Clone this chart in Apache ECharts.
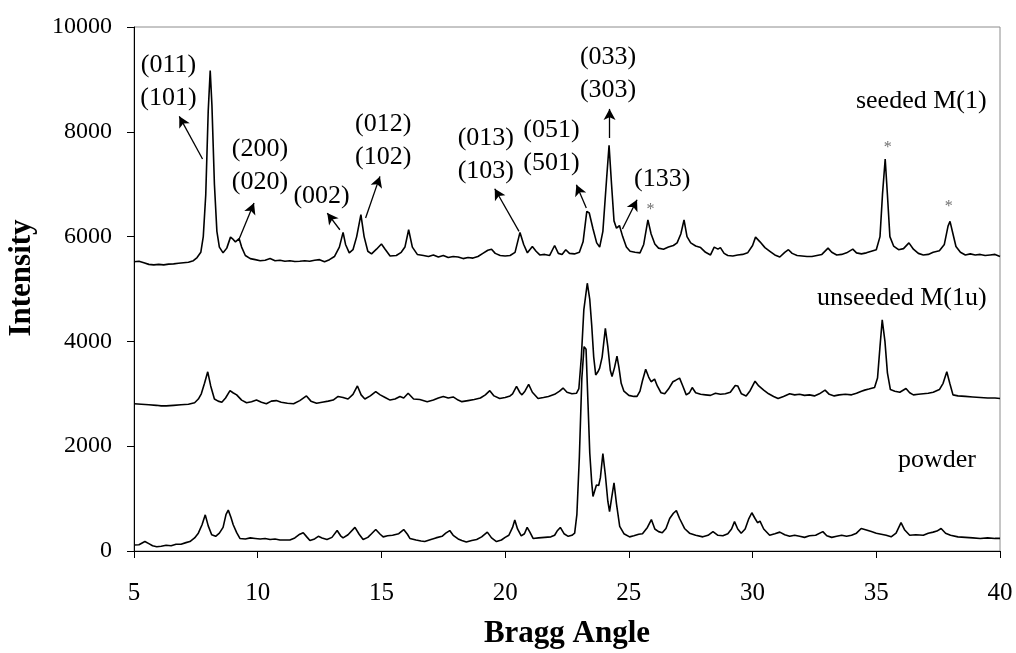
<!DOCTYPE html>
<html>
<head>
<meta charset="utf-8">
<script src="https://cdn.jsdelivr.net/npm/echarts@6/dist/echarts.min.js"></script>
<style>
html,body{margin:0;padding:0;background:#fff;}
#chart{width:1016px;height:653px;}
</style>
</head>
<body>
<div id="chart"></div>
<script>
// ---------- data ----------
const xTicks = [5, 10, 15, 20, 25, 30, 35, 40];
const yTicks = [0, 2000, 4000, 6000, 8000, 10000];
const seriesNames = ['seeded M(1)', 'unseeded M(1u)', 'powder'];

const seeded = [
[5.0,5520],[5.2,5530],[5.4,5500],[5.6,5470],[5.8,5460],[6.0,5470],[6.2,5460],[6.4,5475],[6.6,5480],[6.8,5490],
[7.0,5500],[7.2,5510],[7.4,5540],[7.55,5600],[7.7,5700],[7.8,6000],[7.9,6800],[8.0,8400],[8.08,9170],[8.15,8500],
[8.25,7000],[8.35,6100],[8.45,5800],[8.6,5690],[8.75,5780],[8.9,5990],[9.0,5950],[9.1,5900],[9.25,5960],[9.35,5800],
[9.5,5640],[9.7,5580],[9.9,5560],[10.1,5540],[10.3,5550],[10.5,5580],[10.7,5540],[10.9,5550],[11.1,5530],[11.3,5540],
[11.5,5525],[11.7,5530],[11.9,5540],[12.1,5530],[12.3,5550],[12.5,5560],[12.7,5520],[12.9,5560],[13.1,5620],[13.3,5800],
[13.45,6080],[13.55,5850],[13.7,5690],[13.85,5750],[14.0,6000],[14.17,6420],[14.3,6000],[14.45,5720],[14.6,5670],[14.8,5760],
[15.0,5860],[15.15,5760],[15.35,5630],[15.6,5640],[15.8,5700],[15.95,5800],[16.1,6130],[16.25,5800],[16.45,5660],[16.7,5640],
[16.9,5620],[17.1,5650],[17.3,5610],[17.5,5640],[17.7,5600],[17.9,5620],[18.1,5610],[18.3,5580],[18.5,5600],[18.7,5590],
[18.9,5620],[19.1,5680],[19.3,5740],[19.45,5760],[19.6,5680],[19.8,5640],[20.0,5630],[20.2,5640],[20.4,5700],[20.6,6080],
[20.75,5850],[20.9,5690],[21.1,5810],[21.25,5720],[21.4,5650],[21.6,5660],[21.8,5640],[22.0,5830],[22.15,5680],[22.3,5660],
[22.45,5750],[22.6,5680],[22.8,5670],[23.0,5700],[23.15,5900],[23.3,6480],[23.4,6450],[23.55,6150],[23.7,5880],[23.82,5800],
[23.95,6100],[24.1,7100],[24.2,7740],[24.3,7000],[24.4,6300],[24.5,6160],[24.62,6210],[24.75,6000],[24.9,5800],[25.05,5720],
[25.25,5700],[25.45,5690],[25.6,5850],[25.77,6320],[25.9,6050],[26.05,5860],[26.2,5780],[26.4,5760],[26.6,5800],[26.8,5830],
[26.95,5880],[27.1,6050],[27.23,6320],[27.35,6000],[27.5,5880],[27.7,5820],[27.9,5790],[28.1,5700],[28.3,5650],[28.45,5800],
[28.6,5760],[28.7,5790],[28.85,5680],[29.0,5640],[29.2,5630],[29.4,5650],[29.6,5660],[29.8,5690],[30.0,5830],[30.12,5990],
[30.3,5900],[30.5,5790],[30.7,5720],[30.9,5650],[31.1,5610],[31.3,5700],[31.45,5750],[31.6,5680],[31.8,5640],[32.0,5630],
[32.2,5620],[32.4,5620],[32.6,5640],[32.8,5660],[33.05,5780],[33.2,5700],[33.4,5650],[33.6,5660],[33.8,5690],[34.05,5760],
[34.2,5690],[34.4,5670],[34.6,5690],[34.8,5720],[35.0,5750],[35.15,6000],[35.25,6800],[35.36,7480],[35.45,6800],[35.55,6000],
[35.7,5820],[35.9,5750],[36.1,5770],[36.32,5880],[36.5,5760],[36.7,5680],[36.9,5650],[37.1,5660],[37.3,5700],[37.55,5730],
[37.75,5850],[37.9,6200],[37.98,6290],[38.1,6050],[38.22,5810],[38.4,5700],[38.6,5650],[38.8,5670],[39.0,5650],[39.2,5660],
[39.4,5640],[39.6,5650],[39.8,5660],[40.0,5620]
];

const unseeded = [
[5.0,2810],[5.3,2800],[5.6,2790],[5.9,2780],[6.1,2770],[6.3,2770],[6.6,2780],[6.9,2790],[7.2,2800],[7.45,2830],
[7.6,2900],[7.72,3000],[7.85,3200],[7.98,3420],[8.1,3150],[8.25,2900],[8.4,2860],[8.55,2840],[8.7,2920],[8.88,3060],
[9.0,3020],[9.15,2980],[9.35,2880],[9.55,2830],[9.75,2850],[9.95,2880],[10.15,2840],[10.35,2810],[10.55,2860],[10.75,2870],
[10.95,2840],[11.2,2820],[11.45,2810],[11.7,2870],[11.97,2960],[12.15,2860],[12.38,2820],[12.6,2840],[12.85,2860],[13.05,2880],
[13.25,2950],[13.45,2930],[13.65,2900],[13.85,2990],[14.03,3150],[14.18,2980],[14.33,2900],[14.55,2960],[14.77,3040],[14.95,2980],
[15.15,2930],[15.35,2880],[15.55,2900],[15.75,2950],[15.9,2920],[16.08,3010],[16.3,2900],[16.55,2890],[16.85,2850],[17.1,2880],
[17.3,2920],[17.5,2950],[17.7,2920],[17.9,2940],[18.1,2880],[18.25,2850],[18.5,2870],[18.75,2890],[19.0,2920],[19.2,2980],
[19.38,3060],[19.55,2960],[19.78,2910],[20.0,2930],[20.2,2960],[20.3,3000],[20.46,3140],[20.6,3020],[20.68,2980],[20.8,3050],
[20.95,3180],[21.1,3030],[21.33,2910],[21.55,2930],[21.75,2950],[22.0,2990],[22.2,3050],[22.34,3110],[22.5,3030],[22.7,3000],
[22.88,3010],[22.98,3100],[23.08,3700],[23.18,4600],[23.32,5110],[23.42,4800],[23.5,4300],[23.58,3700],[23.66,3360],[23.75,3420],
[23.82,3490],[23.92,3700],[24.05,4250],[24.15,3900],[24.25,3450],[24.32,3330],[24.42,3500],[24.52,3720],[24.6,3500],[24.69,3200],
[24.8,3050],[25.0,2970],[25.2,2950],[25.33,2950],[25.45,3050],[25.55,3250],[25.68,3470],[25.8,3320],[25.9,3230],[26.04,3280],
[26.15,3150],[26.3,3020],[26.45,3000],[26.6,3090],[26.78,3230],[26.9,3260],[27.05,3300],[27.18,3150],[27.32,2980],[27.45,3020],
[27.56,3120],[27.7,3020],[27.9,2990],[28.1,2980],[28.3,2970],[28.5,3010],[28.7,2990],[28.9,3000],[29.1,3030],[29.3,3160],
[29.4,3150],[29.55,3000],[29.74,2960],[29.9,3060],[30.1,3240],[30.25,3150],[30.45,3070],[30.65,3000],[30.85,2950],[31.03,2910],
[31.25,2950],[31.5,3000],[31.7,2980],[31.9,2990],[32.1,2970],[32.3,2980],[32.5,2960],[32.7,3000],[32.93,3070],[33.1,2990],
[33.3,2960],[33.5,2980],[33.75,2990],[34.0,2980],[34.2,3010],[34.4,3050],[34.53,3070],[34.7,3090],[34.93,3120],[35.05,3300],
[35.15,3900],[35.24,4410],[35.35,4000],[35.45,3400],[35.57,3080],[35.75,3050],[35.95,3030],[36.2,3100],[36.35,3020],[36.5,2980],
[36.7,2990],[36.9,3000],[37.1,3010],[37.3,3030],[37.55,3080],[37.7,3200],[37.85,3420],[37.97,3200],[38.1,2980],[38.3,2960],
[38.6,2950],[38.9,2940],[39.2,2930],[39.5,2920],[39.8,2920],[40.0,2910]
];

const powder = [
[5.0,115],[5.2,120],[5.44,180],[5.6,140],[5.75,100],[5.92,80],[6.1,90],[6.3,110],[6.5,100],[6.7,130],
[6.9,130],[7.1,160],[7.26,180],[7.45,250],[7.6,340],[7.75,500],[7.88,690],[8.0,480],[8.14,310],[8.3,280],
[8.45,340],[8.6,450],[8.72,700],[8.81,780],[8.92,640],[9.01,500],[9.15,350],[9.28,240],[9.5,230],[9.7,250],
[9.9,240],[10.1,230],[10.3,240],[10.5,220],[10.7,230],[10.9,210],[11.1,210],[11.3,210],[11.5,250],[11.7,320],
[11.84,350],[12.0,260],[12.11,200],[12.3,230],[12.45,280],[12.6,250],[12.8,220],[13.0,260],[13.21,390],[13.35,290],
[13.45,250],[13.65,310],[13.93,450],[14.1,320],[14.26,220],[14.45,260],[14.6,330],[14.77,410],[14.95,320],[15.07,270],
[15.25,290],[15.45,300],[15.7,330],[15.9,410],[16.05,320],[16.15,240],[16.4,210],[16.6,190],[16.75,180],[17.0,220],
[17.2,250],[17.45,280],[17.6,340],[17.76,390],[17.9,300],[18.1,230],[18.25,200],[18.43,170],[18.65,200],[18.85,220],
[19.05,270],[19.28,360],[19.45,250],[19.65,180],[19.85,210],[20.0,260],[20.15,300],[20.3,450],[20.39,590],[20.5,420],
[20.65,290],[20.78,330],[20.89,450],[21.0,360],[21.13,240],[21.35,250],[21.6,260],[21.85,270],[22.0,300],[22.1,380],
[22.23,450],[22.38,330],[22.55,280],[22.7,300],[22.81,340],[22.9,700],[23.0,1800],[23.1,3300],[23.19,3900],[23.27,3850],
[23.35,2800],[23.42,1870],[23.5,1300],[23.55,1040],[23.62,1150],[23.69,1260],[23.78,1250],[23.85,1400],[23.95,1860],[24.05,1450],
[24.15,950],[24.22,750],[24.3,1000],[24.4,1300],[24.5,900],[24.63,470],[24.8,330],[25.03,270],[25.2,290],[25.4,320],
[25.55,330],[25.75,450],[25.91,600],[26.05,420],[26.2,370],[26.35,350],[26.5,430],[26.65,620],[26.8,720],[26.92,770],
[27.05,620],[27.25,430],[27.45,340],[27.7,300],[27.99,270],[28.2,300],[28.4,370],[28.6,300],[28.8,290],[29.0,330],
[29.15,420],[29.27,560],[29.4,420],[29.54,340],[29.7,420],[29.85,620],[29.97,730],[30.1,620],[30.2,540],[30.3,570],
[30.45,420],[30.69,300],[30.9,330],[31.1,360],[31.3,310],[31.5,280],[31.7,300],[31.9,280],[32.1,260],[32.3,290],
[32.55,300],[32.84,370],[33.0,290],[33.2,260],[33.4,280],[33.6,300],[33.8,280],[34.0,300],[34.2,340],[34.39,430],
[34.6,400],[34.8,370],[35.0,340],[35.2,320],[35.4,300],[35.6,270],[35.8,340],[36.0,540],[36.15,400],[36.35,300],
[36.6,310],[36.9,300],[37.1,340],[37.3,360],[37.45,380],[37.62,430],[37.8,340],[38.0,300],[38.3,270],[38.6,260],
[38.9,250],[39.2,240],[39.5,250],[39.8,240],[40.0,240]
];

// peak annotations (miller indices): text, anchor [x, y] in data units
const peakLabels = [
  ['(011)\n(101)', [6.39, 8964]],
  ['(200)\n(020)', [10.09, 7357]],
  ['(002)', [12.58, 6767]],
  ['(012)\n(102)', [15.07, 7825]],
  ['(013)\n(103)', [19.22, 7573]],
  ['(051)\n(501)', [21.87, 7707]],
  ['(033)\n(303)', [24.16, 9101]],
  ['(133)', [26.35, 7105]]
];
// arrows: from [x,y] to [x,y]
const arrows = [
  [[7.77, 7481], [6.83, 8295]],
  [[9.25, 5953], [9.85, 6641]],
  [[13.32, 6131], [12.81, 6450]],
  [[14.36, 6354], [14.94, 7149]],
  [[20.56, 6099], [19.58, 6914]],
  [[23.28, 6545], [22.88, 6991]],
  [[24.22, 7882], [24.22, 8437]],
  [[24.74, 6144], [25.33, 6704]]
];
const stars = [[25.87, 6513], [35.46, 7691], [37.93, 6564]];
// series name labels (right-aligned end x, centre y)
const nameLabels = [[39.46, 8582], [39.46, 4826], [39.03, 1738]];

// ---------- chart ----------
const FONT = '"Liberation Serif", "Times New Roman", serif';
const chart = echarts.init(document.getElementById('chart'), null, {renderer: 'canvas'});

const lineStyle = {color: '#000', width: 1.6};
function mkSeries(name, data, extra) {
  return Object.assign({
    name: name, type: 'line', data: data, showSymbol: false, symbol: 'none',
    lineStyle: lineStyle, itemStyle: {color: '#000'}, silent: true, animation: false, z: 3
  }, extra || {});
}

const option = {
  animation: false,
  backgroundColor: '#fff',
  grid: {left: 134, right: 16, top: 27, bottom: 102, containLabel: false, outerBoundsMode: 'none',
         show: true, borderColor: '#8c8c8c', borderWidth: 1, backgroundColor: 'transparent'},
  xAxis: {
    type: 'value', min: xTicks[0], max: xTicks[xTicks.length - 1], interval: 5,
    name: 'Bragg Angle', nameLocation: 'middle', nameGap: 67,
    nameTextStyle: {fontFamily: FONT, fontSize: 31, fontWeight: 'bold', color: '#000'},
    axisLine: {show: true, onZero: false, lineStyle: {color: '#000', width: 1}},
    axisTick: {show: true, inside: false, length: 7, lineStyle: {color: '#000'}},
    axisLabel: {fontFamily: FONT, fontSize: 25, color: '#000', margin: 30, formatter: v => String(v)},
    splitLine: {show: false}
  },
  yAxis: {
    type: 'value', min: yTicks[0], max: yTicks[yTicks.length - 1], interval: 2000,
    name: 'Intensity', nameLocation: 'middle', nameGap: 97,
    nameTextStyle: {fontFamily: FONT, fontSize: 31, fontWeight: 'bold', color: '#000', padding: [0, 0, 0, 22]},
    axisLine: {show: true, onZero: false, lineStyle: {color: '#000', width: 1}},
    axisTick: {show: true, inside: false, length: 7, lineStyle: {color: '#000'}},
    axisLabel: {fontFamily: FONT, fontSize: 24, color: '#000', margin: 22, formatter: v => String(v)},
    splitLine: {show: false}
  },
  series: [
    mkSeries(seriesNames[0], seeded, {
      markLine: {
        silent: true, animation: false,
        symbol: ['none', 'arrow'], symbolSize: [9, 11],
        label: {show: false},
        lineStyle: {color: '#000', width: 1.3, type: 'solid'},
        emphasis: {disabled: true},
        data: arrows.map(a => [{coord: a[0]}, {coord: a[1]}])
      }
    }),
    mkSeries(seriesNames[1], unseeded),
    mkSeries(seriesNames[2], powder)
  ]
};
chart.setOption(option);

function addTexts() {
  const els = [];
  peakLabels.forEach(p => {
    const pt = chart.convertToPixel({gridIndex: 0}, p[1]);
    els.push({type: 'text', silent: true, z: 10, style: {
      text: p[0], x: pt[0], y: pt[1], font: '26px ' + FONT, fill: '#000',
      align: 'center', verticalAlign: 'middle', lineHeight: 33
    }});
  });
  stars.forEach(s => {
    const pt = chart.convertToPixel({gridIndex: 0}, s);
    els.push({type: 'text', silent: true, z: 10, style: {
      text: '*', x: pt[0], y: pt[1], font: '16px ' + FONT, fill: '#707070',
      align: 'center', verticalAlign: 'middle'
    }});
  });
  nameLabels.forEach((n, i) => {
    const pt = chart.convertToPixel({gridIndex: 0}, n);
    els.push({type: 'text', silent: true, z: 10, style: {
      text: seriesNames[i], x: pt[0], y: pt[1], font: '26px ' + FONT, fill: '#000',
      align: 'right', verticalAlign: 'middle'
    }});
  });
  chart.setOption({graphic: els});
}
addTexts();
</script>
</body>
</html>
